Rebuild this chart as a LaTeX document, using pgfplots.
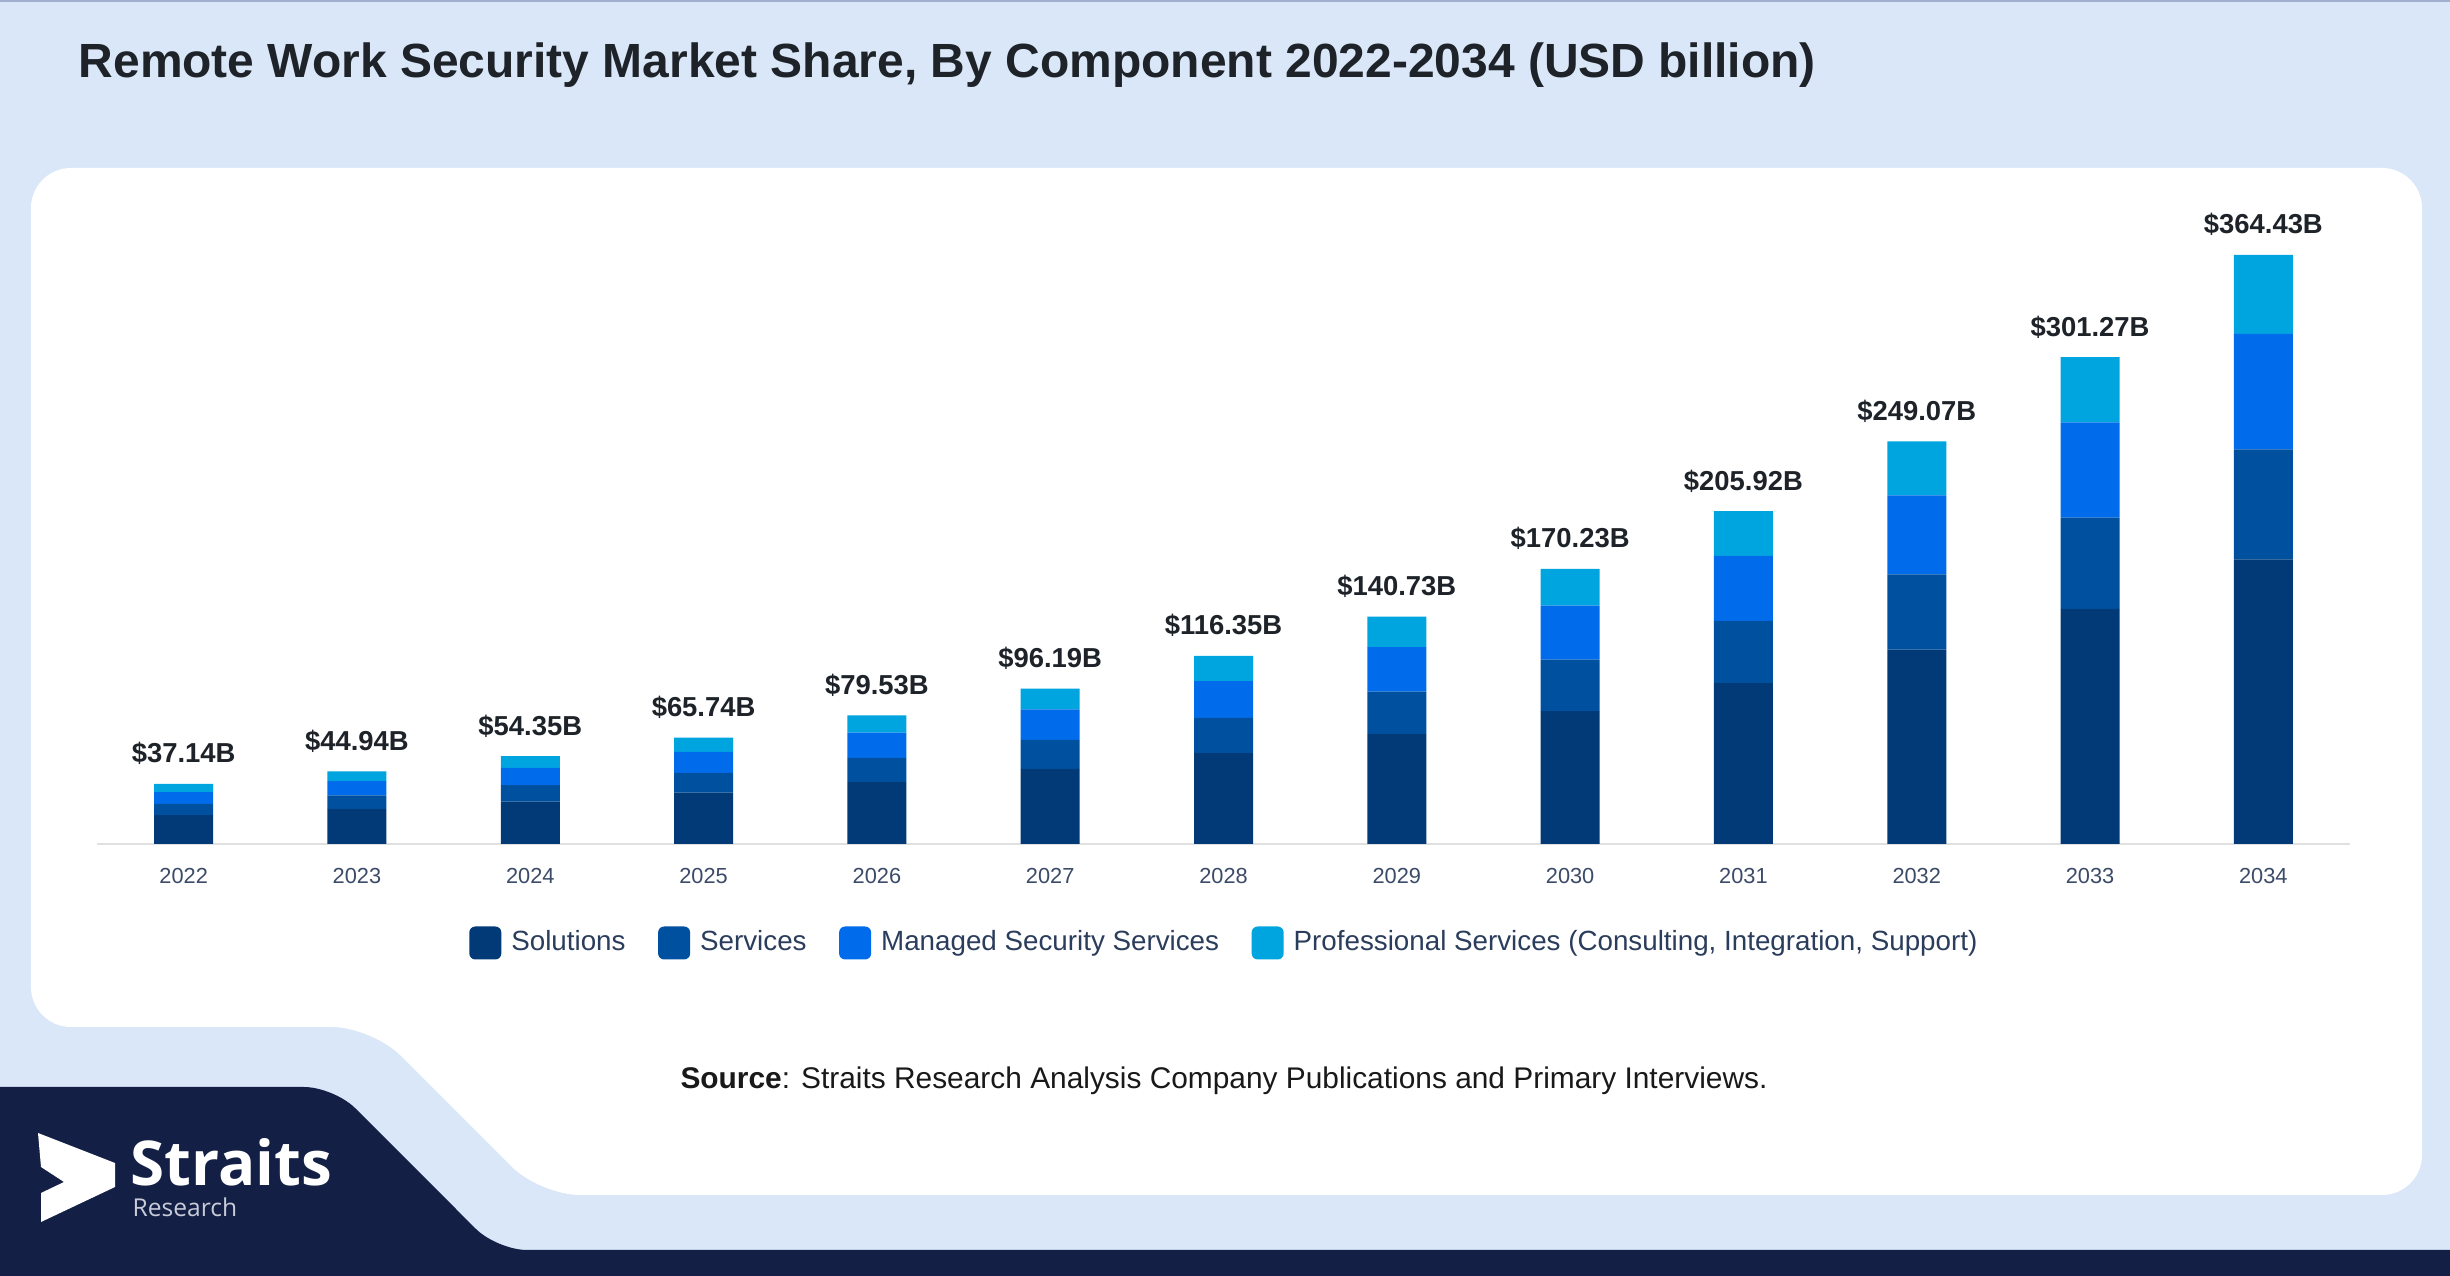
\documentclass[border=0pt]{standalone}
\usepackage{pgfplots}
\pgfplotsset{compat=1.18}
\usepackage{pgfplotstable}
\usepackage{fontspec}
\setmainfont{Liberation Sans}
\newfontfamily\logofont{Open Sans}
\definecolor{bgblue}{RGB}{218,231,248}
\definecolor{topline}{RGB}{160,176,206}
\definecolor{navy}{RGB}{19,31,69}
\definecolor{titlec}{RGB}{30,35,41}
\definecolor{solc}{RGB}{2,58,120}
\definecolor{serc}{RGB}{0,80,160}
\definecolor{manc}{RGB}{0,108,235}
\definecolor{proc}{RGB}{0,165,224}
\definecolor{tickc}{RGB}{60,75,105}
\definecolor{legc}{RGB}{43,61,92}
\definecolor{logogray}{RGB}{200,204,216}

\pgfplotstableread{
x sol ser man pro total
0 17.93 6.95 7.28 4.98 37.14
1 21.71 8.40 8.81 6.02 44.94
2 26.25 10.16 10.65 7.29 54.35
3 31.75 12.29 12.89 8.81 65.74
4 38.41 14.87 15.59 10.66 79.53
5 46.46 17.99 18.85 12.89 96.19
6 56.20 21.76 22.80 15.59 116.35
7 67.97 26.32 27.58 18.86 140.73
8 82.22 31.83 33.37 22.81 170.23
9 99.46 38.51 40.36 27.59 205.92
10 120.29 46.58 48.82 33.38 249.07
11 145.51 56.34 59.05 40.37 301.27
12 176.02 68.15 71.43 48.83 364.43
}\datatable

\pgfplotsset{
  commonaxis/.style={
    at={(0.97cm,4.32cm)}, anchor=south west,
    scale only axis, width=22.53cm, height=6.44cm,
    xmin=-0.5, xmax=12.5, ymin=0, ymax=398.46,
  }
}

\begin{document}
\begin{tikzpicture}
\useasboundingbox (0,0) rectangle (24.5,12.76);
\begin{scope}
\clip (0,0) rectangle (24.5,12.76);
\fill[bgblue] (0,0) rectangle (24.5,12.76);
\fill[topline] (0,12.735) rectangle (24.5,12.76);
% white panel
\fill[white, rounded corners=0.4cm] (0.31,11.08) -- (24.22,11.08) -- (24.22,0.81) -- (5.40,0.81) -- (3.72,2.49) -- (0.31,2.49) -- cycle;
% navy shape
\fill[navy, rounded corners=0.3cm] (-1,1.89) -- (3.34,1.89) -- (4.97,0.26) -- (25.5,0.26) -- (25.5,-1) -- (-1,-1) -- cycle;
\end{scope}
% logo
\fill[white] (0.38,1.43) -- (1.15,1.13) -- (1.15,0.89) -- (0.41,0.54) -- (0.41,0.83) -- (0.64,0.94) -- (0.41,1.09) -- cycle;
\node[anchor=base west, inner sep=0, text=white, font=\logofont\bfseries\fontsize{17.6}{20}\selectfont] at (1.30,0.90) {Straits};
\node[anchor=base west, inner sep=0, text=logogray, font=\logofont\fontsize{7}{8}\selectfont] at (1.32,0.59) {Research};
% title
\node[anchor=base west, inner sep=0, text=titlec, font=\bfseries\fontsize{13.65}{16}\selectfont] at (0.78,11.98) {Remote Work Security Market Share, By Component 2022-2034 (USD billion)};
% source
\node[anchor=base, inner sep=0, text=black!90, font=\fontsize{8.5}{10}\selectfont] at (12.24,1.87) {\textbf{Source}: Straits Research Analysis Company Publications and Primary Interviews.};

\begin{axis}[
  commonaxis,
  ybar stacked, bar width=0.59cm,
  axis x line*=bottom, axis y line=none,
  axis line style={draw=black!12, line width=0.6pt},
  xtick={0,...,12},
  xticklabels={2022,2023,2024,2025,2026,2027,2028,2029,2030,2031,2032,2033,2034},
  major tick length=0pt,
  xticklabel style={font=\fontsize{6.2}{7}\selectfont, text=tickc, yshift=-0.12cm},
  legend columns=4,
  legend style={at={(0.5015,-0.1537)}, anchor=center, draw=none, fill=none,
    font=\fontsize{7.9}{9}\selectfont, text=legc,
    /tikz/every odd column/.append style={column sep=0.03cm},
    /tikz/every even column/.append style={column sep=0.255cm}},
  legend image code/.code={\fill[#1, rounded corners=0.06cm] (0cm,-0.165cm) rectangle (0.32cm,0.165cm);},
]
\addplot[fill=solc, draw=none] table[x=x,y=sol]{\datatable};
\addplot[fill=serc, draw=none] table[x=x,y=ser]{\datatable};
\addplot[fill=manc, draw=none] table[x=x,y=man]{\datatable};
\addplot[fill=proc, draw=none] table[x=x,y=pro]{\datatable};
\legend{Solutions, Services, Managed Security Services, {Professional Services (Consulting, Integration, Support)}}
\end{axis}

\begin{axis}[
  commonaxis,
  hide axis,
]
\addplot[draw=none, mark=none, point meta=explicit symbolic,
  nodes near coords={\$\pgfplotspointmeta B},
  every node near coord/.append style={font=\bfseries\fontsize{7.8}{9}\selectfont, text=titlec, anchor=base, yshift=0.21cm, inner sep=0pt}]
  table[x=x,y=total,meta=total]{\datatable};
\end{axis}
\end{tikzpicture}
\end{document}
